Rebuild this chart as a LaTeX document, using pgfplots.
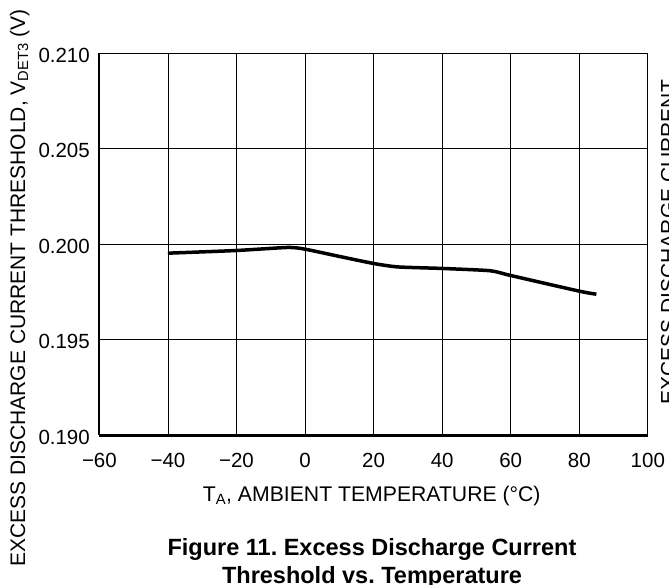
\documentclass[border=0pt]{standalone}
\usepackage{fontspec}
\setmainfont{Liberation Sans}
\usepackage{pgfplots}
\pgfplotsset{compat=1.18}
\frenchspacing

% threshold vs ambient temperature
\pgfplotstableread{
T      V
-40    0.19953
-20    0.19967
-5     0.19983
0      0.19974
10     0.19936
20     0.19899
27     0.19881
40     0.19873
54     0.19861
60     0.19836
80     0.19754
85     0.19738
}\vdet

\begin{document}
\begin{tikzpicture}[x=1pt,y=1pt]
\path[use as bounding box] (0,0) rectangle (669,584);
\clip (0,0) rectangle (669,584);
\begin{axis}[
    at={(99.4pt,148.9pt)}, anchor=south west,
    scale only axis, width=548.4pt, height=381.8pt,
    xmin=-60, xmax=100, ymin=0.190, ymax=0.210,
    xtick={-60,-40,...,100},
    xticklabels={−60,−40,−20,0,20,40,60,80,100},
    ytick={0.190,0.195,0.200,0.205,0.210},
    yticklabels={0.190,0.195,0.200,0.205,0.210},
    major tick length=0pt,
    grid=major,
    grid style={black, line width=0.9pt},
    axis line style={black, line width=1pt},
    tick label style={font=\fontsize{20.5}{24}\selectfont, inner sep=0pt},
    xticklabel style={anchor=base, yshift=-32.3pt},
    yticklabel style={anchor=base east, xshift=-9.4pt, yshift=-9pt},
    clip=false,
]
\addplot[black, line width=3.5pt, smooth, tension=0.35] table[x=T, y=V] {\vdet};
\draw[black, line width=2pt] (rel axis cs:0,1) -- (rel axis cs:0,0);
\draw[black, line width=3pt] (rel axis cs:0,0) -- (rel axis cs:1,0);
\end{axis}
\node[anchor=base, font=\fontsize{21.2}{25}\selectfont] at (371.7,82.3)
    {T\textsubscript{A}, AMBIENT TEMPERATURE (°C)};
\node[anchor=base, rotate=90, font=\fontsize{21}{25}\selectfont] at (25,296)
    {EXCESS DISCHARGE CURRENT THRESHOLD, V\textsubscript{DET3} (V)};
\node[anchor=base west, rotate=90, font=\fontsize{21}{25}\selectfont] at (675.7,176)
    {EXCESS DISCHARGE CURRENT};
\node[anchor=base, font=\fontsize{23.5}{28}\selectfont\bfseries] at (372,29)
    {Figure 11. Excess Discharge Current};
\node[anchor=base, font=\fontsize{23.5}{28}\selectfont\bfseries] at (372,1)
    {Threshold vs. Temperature};
\end{tikzpicture}
\end{document}
